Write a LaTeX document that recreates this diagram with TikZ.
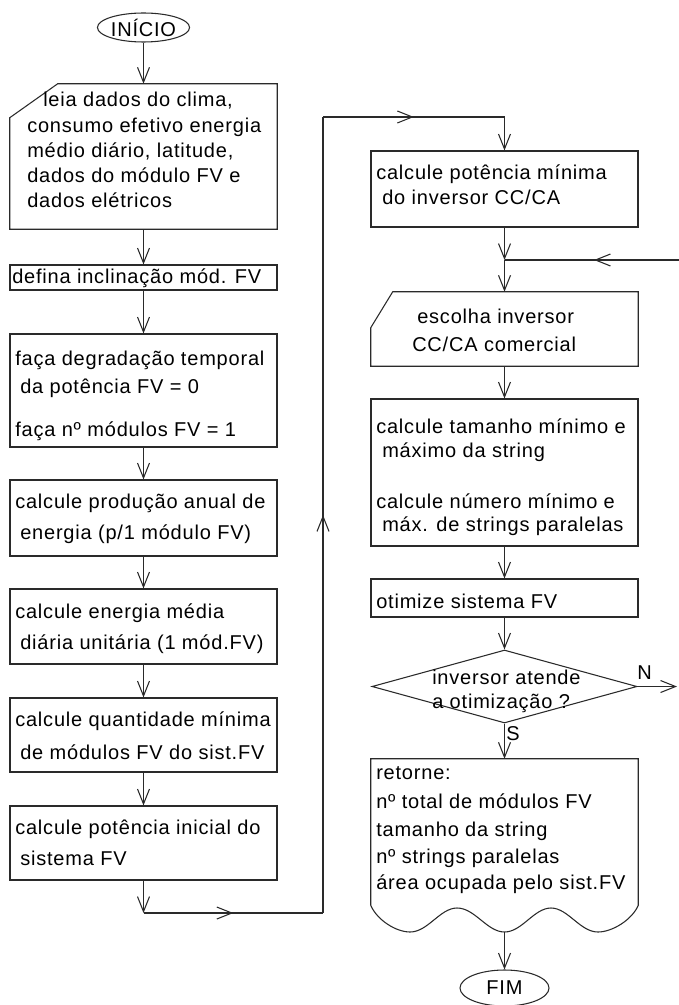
\documentclass[tikz,border=0pt]{standalone}
\usepackage{fontspec}
\newfontfamily\diagfam{Liberation Sans}[LetterSpace=4]
\usetikzlibrary{arrows.meta,shapes.geometric,decorations.markings}
\newlength\pxu
\setlength\pxu{0.75pt}
\definecolor{linec}{HTML}{2A2A2A}
\definecolor{textc}{HTML}{000000}
\newcommand\diagfont{\diagfam\fontsize{15pt}{18pt}\selectfont}
\tikzset{
  ln/.style={line width=0.8pt, draw=linec},
  arr/.style={ln, -{Straight Barb[length=11.25pt,width=9pt]}},
  box/.style={rectangle, draw=linec, line width=0.8pt, fill=white, inner sep=0pt},
  ghost/.style={rectangle, inner sep=0pt},
  term/.style={ellipse, draw=linec, line width=0.8pt, fill=white, inner sep=0pt, font=\diagfont, text=textc},
  txt/.style={anchor=base west, inner sep=0pt, font=\diagfont, text=textc},
  midarrow/.style={postaction={decorate, decoration={markings,
      mark=at position #1 with {\arrow{Straight Barb[length=11.25pt,width=9pt]}}}}},
}
\begin{document}
\begin{tikzpicture}[x=0.75pt,y=-0.75pt]
\useasboundingbox (0,0) rectangle (678,1005);

% ---------- left column ----------
\node[term, minimum width=88\pxu, minimum height=29\pxu] (ini) at (143.5,27.5) {INÍCIO};

\node[ghost, minimum width=267\pxu, minimum height=145\pxu] (b1) at (143.5,156.5) {};
\draw[ln, fill=white] (b1.south west) -- ([yshift=-34\pxu]b1.north west)
  -- ([xshift=48\pxu]b1.north west) -- (b1.north east) -- (b1.south east) -- cycle;
\node[txt] (t1a) at (43,107) {leia dados do clima,};
\node[txt] (t1b) at (27,133) {consumo efetivo energia};
\node[txt] (t1c) at (27,158) {médio diário, latitude,};
\node[txt] (t1d) at (27,183) {dados do módulo FV e};
\node[txt] (t1e) at (27,208) {dados elétricos};

\node[box, minimum width=267\pxu, minimum height=25\pxu] (b2) at (143.5,277.5) {};
\node[txt] (t2a) at (12,283) {defina inclinação mód. FV};

\node[box, minimum width=267\pxu, minimum height=113\pxu] (b3) at (143.5,390.5) {};
\node[txt] (t3a) at (15,365) {faça degradação temporal};
\node[txt] (t3b) at (20,393) {da potência FV = 0};
\node[txt] (t3c) at (15,436) {faça nº módulos FV = 1};

\node[box, minimum width=267\pxu, minimum height=76\pxu] (b4) at (143.5,518) {};
\node[txt] (t4a) at (15,508) {calcule produção anual de};
\node[txt] (t4b) at (20,539) {energia (p/1 módulo FV)};

\node[box, minimum width=267\pxu, minimum height=75\pxu] (b5) at (143.5,626.5) {};
\node[txt] (t5a) at (15,618) {calcule energia média};
\node[txt] (t5b) at (20,649) {diária unitária (1 mód.FV)};

\node[box, minimum width=267\pxu, minimum height=74\pxu] (b6) at (143.5,735) {};
\node[txt] (t6a) at (15,726) {calcule quantidade mínima};
\node[txt] (t6b) at (20,759) {de módulos FV do sist.FV};

\node[box, minimum width=267\pxu, minimum height=74\pxu] (b7) at (143.5,843) {};
\node[txt] (t7a) at (15,834) {calcule potência inicial do};
\node[txt] (t7b) at (20,865) {sistema FV};

% ---------- right column ----------
\node[box, minimum width=267\pxu, minimum height=76\pxu] (b8) at (504.5,189) {};
\node[txt] (t8a) at (376,180) {calcule potência mínima};
\node[txt] (t8b) at (382,205) {do inversor CC/CA};

\node[ghost, minimum width=267\pxu, minimum height=74\pxu] (b9) at (504.5,329) {};
\draw[ln, fill=white] (b9.south west) -- ([yshift=-36\pxu]b9.north west)
  -- ([xshift=22\pxu]b9.north west) -- (b9.north east) -- (b9.south east) -- cycle;
\node[txt] (t9a) at (417,323) {escolha inversor};
\node[txt] (t9b) at (412,351) {CC/CA comercial};

\node[box, minimum width=267\pxu, minimum height=147\pxu] (b10) at (504.5,472.5) {};
\node[txt] (t10a) at (376,433) {calcule tamanho mínimo e};
\node[txt] (t10b) at (382,457) {máximo da string};
\node[txt] (t10c) at (376,508) {calcule número mínimo e};
\node[txt] (t10d) at (382,531) {máx. de strings paralelas};

\node[box, minimum width=267\pxu, minimum height=38\pxu] (b11) at (504.5,598) {};
\node[txt] (t11a) at (376,608) {otimize sistema FV};

\node[diamond, draw=linec, line width=0.8pt, fill=white, inner sep=0pt,
      minimum width=265\pxu, minimum height=73\pxu] (d) at (504.5,686.5) {};
\node[txt] (tda) at (432,684) {inversor atende};
\node[txt] (tdb) at (432,708) {a otimização ?};

\node[ghost, minimum width=267\pxu, minimum height=146\pxu] (b12) at (504.5,832) {};
\coordinate (b12w) at (504.5,932);
\draw[ln, fill=white] (b12.south west) -- (b12.north west) -- (b12.north east) -- (b12.south east)
  .. controls (632,920) and (612,932) .. (598,932)
  .. controls (580,932) and (568,908) .. (551,908)
  .. controls (534,908) and (522,932) .. (b12w)
  .. controls (487,932) and (475,908) .. (457,908)
  .. controls (440,908) and (428,932) .. (410,932)
  .. controls (396,932) and (377,920) .. (b12.south west) -- cycle;
\node[txt] (t12a) at (376,779) {retorne:};
\node[txt] (t12b) at (376,808) {nº total de módulos FV};
\node[txt] (t12c) at (376,836) {tamanho da string};
\node[txt] (t12d) at (376,863) {nº strings paralelas};
\node[txt] (t12e) at (376,889) {área ocupada pelo sist.FV};

\node[term, minimum width=89\pxu, minimum height=36\pxu] (fim) at (504.5,988) {FIM};

% ---------- connectors ----------
\draw[arr] (ini.south) -- (b1.north);
\draw[arr] (b1) -- (b2);
\draw[arr] (b2) -- (b3);
\draw[arr] (b3) -- (b4);
\draw[arr] (b4) -- (b5);
\draw[arr] (b5) -- (b6);
\draw[arr] (b6) -- (b7);

\coordinate (c1) at (143.5,913);
\coordinate (c2) at (323,913);
\coordinate (c3) at (323,117);
\coordinate (c4) at (504.5,117);
\draw[arr] (b7.south) -- (c1);
\draw[ln, midarrow=0.5] (c1) -- (c2);
\draw[ln, midarrow=0.5] (c2) -- (c3);
\draw[ln, midarrow=0.5] (c3) -- (c4);
\draw[arr] (c4) -- (b8.north);

\coordinate (j) at (504.5,260);
\coordinate (e1) at (680,260);
\draw[arr] (b8.south) -- (j);
\draw[ln, midarrow=0.49] (e1) -- (j);
\draw[arr] (j) -- (b9.north);
\draw[arr] (b9) -- (b10);
\draw[arr] (b10) -- (b11);
\draw[arr] (b11) -- (d.north);

\coordinate (e2) at (677,686.5);
\draw[arr] (d.east) -- (e2);
\node[txt] (lN) at (637,679) {N};
\draw[arr] (d.south) -- (b12.north);
\node[txt] (lS) at (506,740) {S};
\draw[arr] (b12w) -- (fim.north);
\end{tikzpicture}
\end{document}
